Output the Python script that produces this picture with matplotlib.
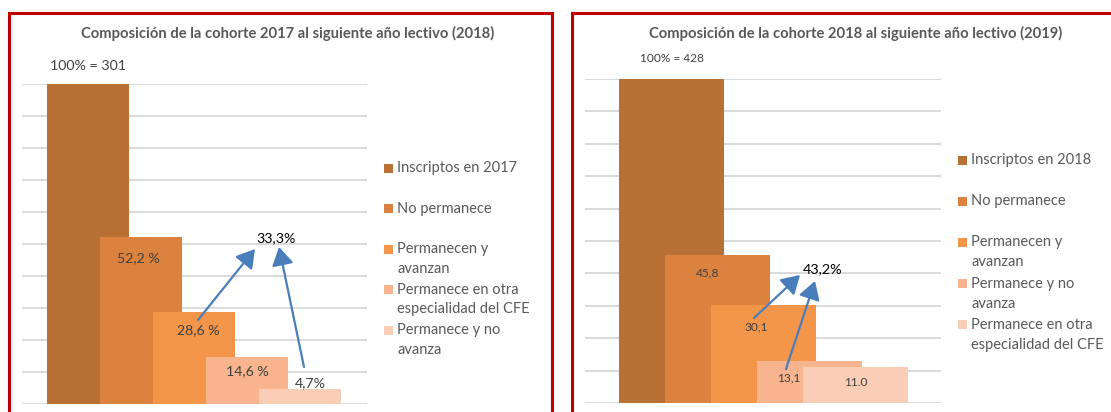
import matplotlib
matplotlib.use("Agg")
import matplotlib.pyplot as plt
from matplotlib.patches import Rectangle, FancyArrowPatch
import numpy as np

plt.rcParams['font.family'] = ['Lato', 'DejaVu Sans']

# ---------------- data ----------------
left_title = "Composición de la cohorte 2017 al siguiente año lectivo (2018)"
left_values = [100, 52.2, 28.6, 14.6, 4.7]
left_labels = ["100% = 301", "52,2 %", "28,6 %", "14,6 %", "4,7%"]
left_legend = ["Inscriptos en 2017", "No permanece", "Permanecen y\navanzan",
               "Permanece en otra\nespecialidad del CFE", "Permanece y no\navanza"]
left_total = "33,3%"

right_title = "Composición de la cohorte 2018 al siguiente año lectivo (2019)"
right_values = [100, 45.8, 30.1, 13.1, 11.0]
right_labels = ["100% = 428", "45,8", "30,1", "13,1", "11.0"]
right_legend = ["Inscriptos en 2018", "No permanece", "Permanecen y\navanzan",
                "Permanece y no\navanza", "Permanece en otra\nespecialidad del CFE"]
right_total = "43,2%"

colors = ["#B97034", "#DA823E", "#F4964A", "#F7B48F", "#FACDB6"]

# ---------------- layout ----------------
W, H = 1111, 412
fig = plt.figure(figsize=(W / 100, H / 100), dpi=100)
fig.patch.set_facecolor("white")


def fx(x):
    return x / W


def fy(y):
    return 1 - y / H


def panel(ax_px, centers_px, bar_w_px, values, labels, label_offsets, label_size,
          top_offset, legend, leg_x, leg_y0, leg_step, title, title_cx,
          total, total_xy, arrows, total_size, leg_size):
    x0, x1, ytop, ybot = ax_px
    ax = fig.add_axes([fx(x0), fy(ybot), (x1 - x0) / W, (ybot - ytop) / H])
    step = (centers_px[1] - centers_px[0]) / 4
    ax.set_xlim(-(centers_px[0] - x0) / step, 4 + (x1 - centers_px[1]) / step)
    ax.set_ylim(0, 100)
    ax.set_yticks(np.arange(0, 101, 10))
    ax.yaxis.grid(True, color="#D9D9D9", lw=1.4)
    ax.set_axisbelow(True)
    for s in ax.spines.values():
        s.set_visible(False)
    ax.tick_params(left=False, bottom=False, labelleft=False, labelbottom=False)
    ax.patch.set_alpha(0)
    xs = np.arange(len(values))
    for i, v in enumerate(values):
        ax.bar(xs[i], v, width=bar_w_px / step, color=colors[i], zorder=2 + i)
    for i, (v, lab) in enumerate(zip(values, labels)):
        dx, dy = label_offsets[i]
        ax.annotate(lab, xy=(xs[i], v), xytext=(dx * 0.72, dy * 0.72),
                    textcoords="offset points", ha="center", va="center",
                    fontsize=label_size if i > 0 else top_offset,
                    color="#404040", zorder=20)
    # arrows
    for (tx, ty), (hx, hy) in arrows:
        a = FancyArrowPatch(((tx - centers_px[0]) / step, (ybot - ty) / ((ybot - ytop) / 100)),
                            ((hx - centers_px[0]) / step, (ybot - hy) / ((ybot - ytop) / 100)),
                            arrowstyle="-|>,head_length=0.55,head_width=0.33",
                            mutation_scale=20, color="#4A7EBB", lw=1.6,
                            shrinkA=0, shrinkB=0, zorder=25)
        ax.add_patch(a)
    tx, ty = total_xy
    ax.text((tx - centers_px[0]) / step, (ybot - ty) / ((ybot - ytop) / 100), total,
            ha="center", va="center", fontsize=total_size, color="black", zorder=30)
    # title
    fig.text(fx(title_cx), fy(33.5), title, ha="center", va="center",
             fontsize=10.6, fontweight="bold", color="#595959")
    # legend
    for i, lab in enumerate(legend):
        yc = leg_y0 + leg_step * i
        fig.add_artist(Rectangle((fx(leg_x), fy(yc + 4.5)), 9 / W, 9 / H,
                                 transform=fig.transFigure, color=colors[i], lw=0))
        for k, line in enumerate(lab.split("\n")):
            fig.text(fx(leg_x + 13), fy(yc + 20 * k), line, ha="left", va="center",
                     fontsize=leg_size, color="#595959")
    return ax


panel((22, 367, 84, 404), (88, 300), 82, left_values, left_labels,
      [(0, 18), (-3, -21), (4, -18), (0, -14), (10, 6)], 10.2, 10.2,
      left_legend, 384, 168, 40.5, left_title, 288, left_total, (276, 238),
      [((198, 320), (255, 249)), ((304, 367), (279, 247))], 10.2, 10.5)

panel((585, 941, 79, 403), (671.5, 855.5), 105, right_values, right_labels,
      [(0, 20), (-10, -18), (-7, -21), (-21, -17), (0, -15)], 8.6, 8.6,
      right_legend, 958, 160, 41.2, right_title, 855.5, right_total, (823, 269),
      [((754, 318), (800, 275)), ((786, 369), (815, 281))], 10.4, 10.5)

# red frames
red = "#C00000"
fig.add_artist(Rectangle((fx(8.5), fy(430)), 543 / W, 417.5 / H,
                         transform=fig.transFigure, fill=False, edgecolor=red, lw=2.2))
fig.add_artist(Rectangle((fx(571.5), fy(430)), 560 / W, 417.5 / H,
                         transform=fig.transFigure, fill=False, edgecolor=red, lw=2.2))

fig.savefig("out.png", dpi=100, facecolor="white")
